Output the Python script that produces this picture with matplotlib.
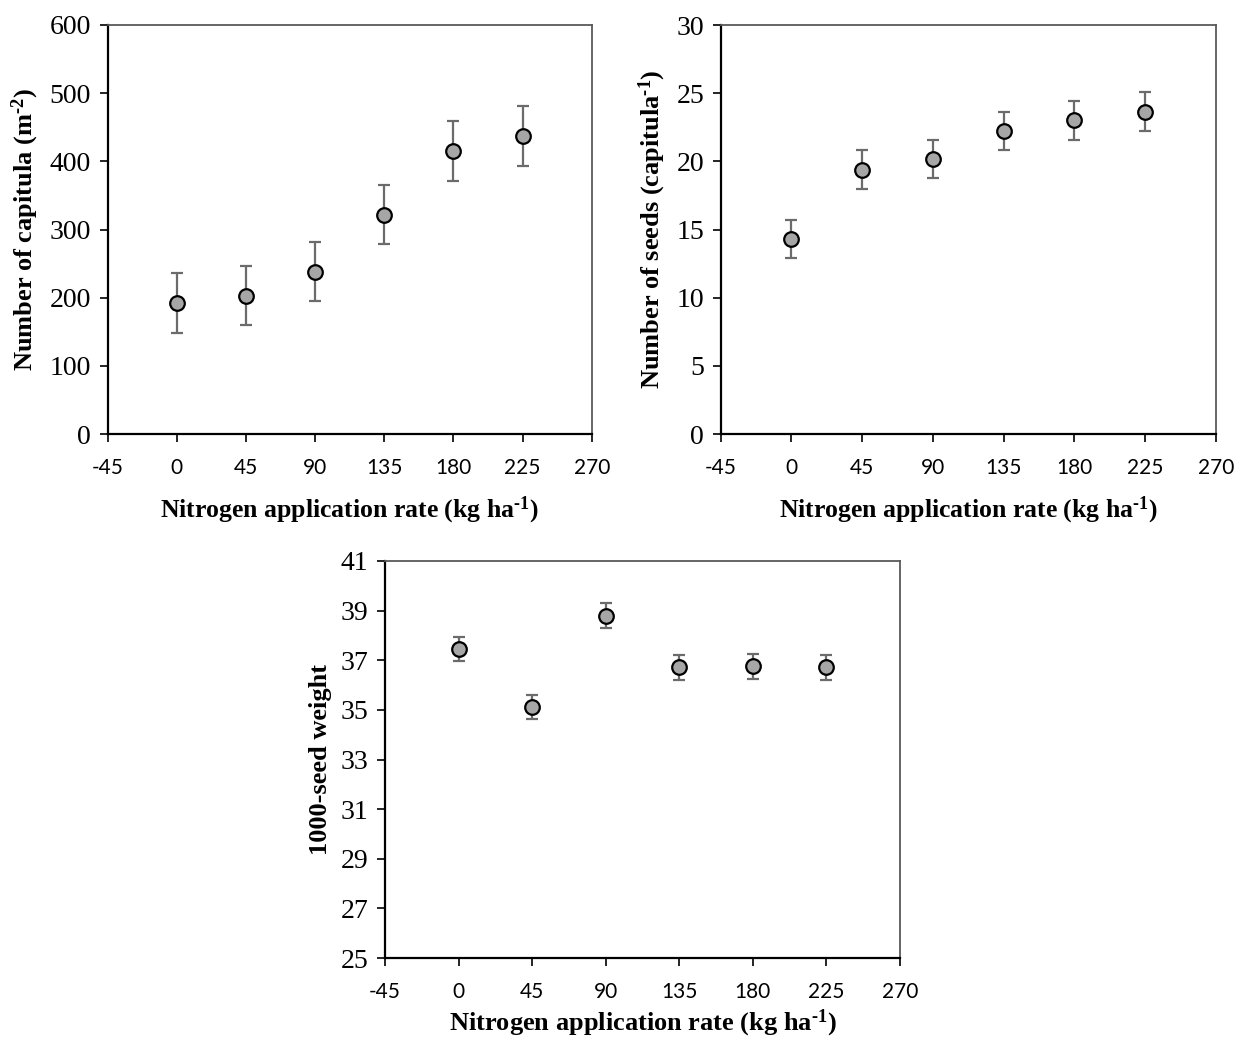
import matplotlib
matplotlib.use("Agg")
import matplotlib.pyplot as plt
from matplotlib.ticker import FixedLocator

plt.rcParams['axes.unicode_minus'] = False
plt.rcParams['mathtext.fontset'] = 'custom'
plt.rcParams['mathtext.rm'] = 'Liberation Serif:bold'
plt.rcParams['mathtext.bf'] = 'Liberation Serif:bold'
plt.rcParams['mathtext.it'] = 'Liberation Serif:bold'

# ---- data ----
n_rates = [0, 45, 90, 135, 180, 225]

capitula = [192, 203, 238, 322, 415, 437]
capitula_err = [44, 43.5, 43.5, 43.5, 43.5, 43.5]

seeds = [14.3, 19.4, 20.2, 22.25, 23.0, 23.65]
seeds_err = [1.4, 1.4, 1.4, 1.4, 1.4, 1.4]

tsw = [37.45, 35.1, 38.8, 36.72, 36.75, 36.72]
tsw_err = [0.48, 0.48, 0.5, 0.5, 0.5, 0.5]

x_ticks = [-45, 0, 45, 90, 135, 180, 225, 270]
x_ticklabels = ['-45', '0', '45', '90', '135', '180', '225', '270']

cap_yticks = [0, 100, 200, 300, 400, 500, 600]
seed_yticks = [0, 5, 10, 15, 20, 25, 30]
tsw_yticks = [25, 27, 29, 31, 33, 35, 37, 39, 41]

xlabel = r'Nitrogen application rate (kg ha$^{\text{-}1}$)'
ylabels = [r'Number of capitula (m$^{\text{-}2}$)',
           r'Number of seeds (capitula$^{\text{-}1}$)',
           '1000-seed weight']

W, H = 1236, 1041
fig = plt.figure(figsize=(W / 100, H / 100), dpi=100)


def make_ax(l, r, t, b):
    return fig.add_axes([l / W, 1 - b / H, (r - l) / W, (b - t) / H])


ax1 = make_ax(107.7, 591.7, 25, 434)
ax2 = make_ax(720.7, 1216, 25, 434)
ax3 = make_ax(385, 900, 561, 958)

panels = [
    (ax1, capitula, capitula_err, cap_yticks, ylabels[0], 18.5, 12),
    (ax2, seeds, seeds_err, seed_yticks, ylabels[1], 18.5, 12),
    (ax3, tsw, tsw_err, tsw_yticks, ylabels[2], 19, 4),
]

for ax, vals, errs, yt, yl, xfs, xpad in panels:
    ax.errorbar(n_rates, vals, yerr=errs, fmt='o', ms=10.5,
                mfc='#a6a6a6', mec='black', mew=1.6,
                ecolor='#6b6b6b', elinewidth=1.6, capsize=4.5, capthick=1.6,
                zorder=3)
    ax.set_xlim(x_ticks[0], x_ticks[-1])
    ax.set_ylim(yt[0], yt[-1])
    ax.xaxis.set_major_locator(FixedLocator(x_ticks))
    ax.set_xticklabels(x_ticklabels)
    ax.yaxis.set_major_locator(FixedLocator(yt))
    ax.set_yticklabels([str(v) for v in yt])
    for lbl in ax.get_xticklabels():
        lbl.set_fontfamily('Lato')
        lbl.set_fontsize(15)
    for lbl in ax.get_yticklabels():
        lbl.set_fontfamily('Liberation Serif')
        lbl.set_fontsize(20)
    ax.tick_params(axis='x', direction='out', length=6, width=1.2,
                   color='black', pad=11)
    ax.tick_params(axis='y', direction='out', length=6, width=1.2,
                   color='black', pad=6)
    for s in ('left', 'bottom'):
        ax.spines[s].set_color('black')
        ax.spines[s].set_linewidth(1.6)
    for s in ('right', 'top'):
        ax.spines[s].set_color('#595959')
        ax.spines[s].set_linewidth(1.3)
    ax.set_xlabel(xlabel, fontfamily='Liberation Serif', fontweight='bold',
                  fontsize=xfs, labelpad=xpad)
    ax.set_ylabel(yl, fontfamily='Liberation Serif', fontweight='bold',
                  fontsize=19, labelpad=6)

fig.savefig('out.png', dpi=100, facecolor='white')
